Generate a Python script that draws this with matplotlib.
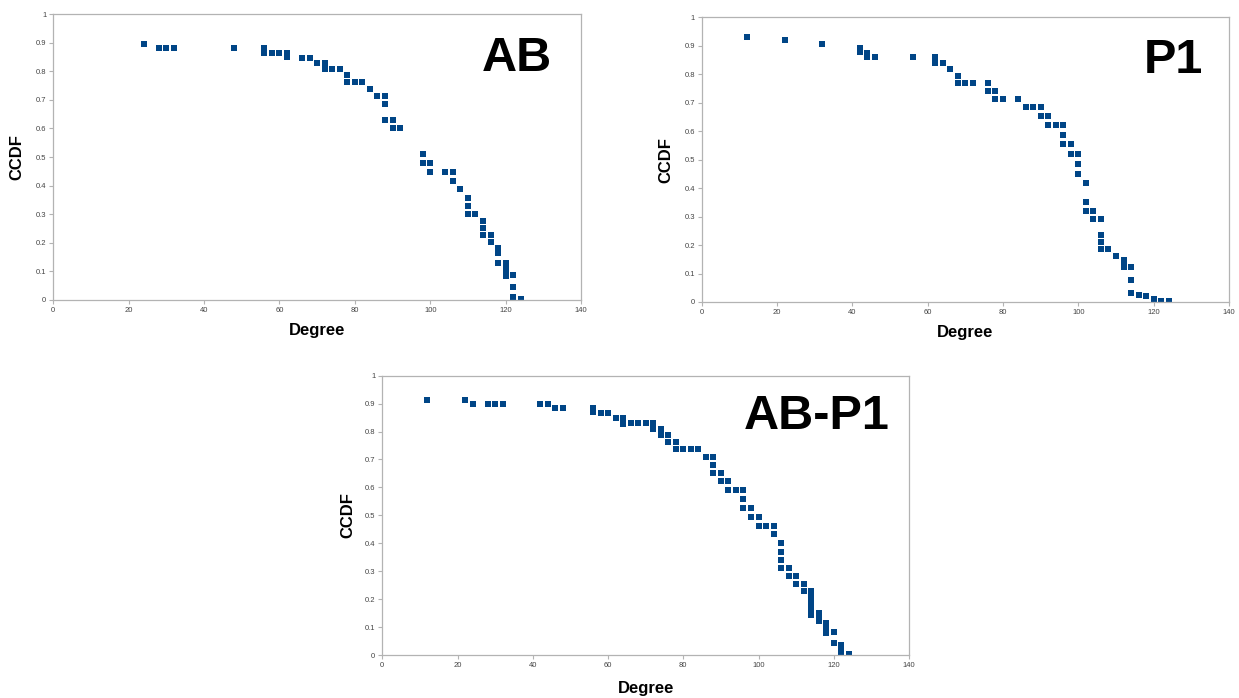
import matplotlib
matplotlib.use("Agg")
import matplotlib.pyplot as plt

plt.rcParams["font.family"] = ["Liberation Sans", "DejaVu Sans"]

# ── data ──────────────────────────────────────────────────────────────────────
AB_deg = [24, 28, 30, 32, 48, 56, 56, 58, 60, 62, 62, 66, 68, 70, 72, 72, 74, 76,
          78, 78, 80, 82, 84, 86, 88, 88, 88, 90, 90, 92, 98, 98, 100, 100, 104,
          106, 106, 108, 110, 110, 110, 112, 114, 114, 114, 116, 116, 118, 118,
          118, 120, 120, 120, 120, 122, 122, 122, 124]
AB_ccdf = [0.896, 0.881, 0.881, 0.881, 0.881, 0.881, 0.866, 0.866, 0.866, 0.866,
           0.851, 0.847, 0.847, 0.828, 0.828, 0.810, 0.810, 0.810, 0.787, 0.764,
           0.764, 0.764, 0.739, 0.714, 0.714, 0.687, 0.630, 0.630, 0.600, 0.600,
           0.509, 0.479, 0.479, 0.449, 0.449, 0.449, 0.417, 0.388, 0.357, 0.329,
           0.301, 0.301, 0.276, 0.250, 0.227, 0.227, 0.203, 0.182, 0.163, 0.128,
           0.128, 0.112, 0.097, 0.083, 0.085, 0.046, 0.008, 0.004]

P1_deg = [12, 22, 32, 42, 42, 44, 44, 46, 56, 62, 62, 64, 66, 68, 68, 70, 72, 76,
          76, 78, 78, 80, 84, 86, 88, 90, 90, 92, 92, 94, 96, 96, 96, 98, 98, 100,
          100, 100, 102, 102, 102, 104, 104, 106, 106, 106, 106, 108, 110, 112,
          112, 112, 114, 114, 114, 116, 118, 120, 122, 124]
P1_ccdf = [0.932, 0.921, 0.907, 0.893, 0.879, 0.875, 0.860, 0.860, 0.860, 0.860,
           0.838, 0.838, 0.817, 0.794, 0.768, 0.768, 0.768, 0.768, 0.741, 0.741,
           0.713, 0.713, 0.713, 0.684, 0.684, 0.684, 0.652, 0.652, 0.621, 0.621,
           0.621, 0.587, 0.554, 0.554, 0.519, 0.519, 0.485, 0.451, 0.417, 0.352,
           0.321, 0.321, 0.290, 0.290, 0.235, 0.210, 0.185, 0.185, 0.163, 0.148,
           0.135, 0.123, 0.124, 0.078, 0.031, 0.025, 0.021, 0.010, 0.005, 0.002]

ABP1_deg = [12, 22, 24, 28, 30, 32, 42, 44, 46, 48, 56, 56, 58, 60, 62, 64, 64, 64,
            66, 68, 70, 72, 72, 74, 74, 76, 76, 78, 78, 80, 82, 84, 86, 88, 88, 88,
            90, 90, 92, 92, 94, 96, 96, 96, 98, 98, 100, 100, 102, 104, 104, 106,
            106, 106, 106, 108, 108, 110, 110, 112, 112, 114, 114, 114, 114, 114,
            114, 116, 116, 116, 118, 118, 118, 120, 120, 122, 122, 122, 124]
ABP1_ccdf = [0.913, 0.913, 0.899, 0.899, 0.899, 0.899, 0.899, 0.899, 0.883, 0.883,
             0.885, 0.870, 0.868, 0.868, 0.850, 0.850, 0.838, 0.826, 0.830, 0.830,
             0.830, 0.830, 0.810, 0.810, 0.788, 0.788, 0.764, 0.764, 0.738, 0.738,
             0.738, 0.738, 0.710, 0.710, 0.681, 0.652, 0.652, 0.623, 0.623, 0.591,
             0.591, 0.591, 0.560, 0.527, 0.527, 0.495, 0.495, 0.463, 0.463, 0.463,
             0.432, 0.400, 0.370, 0.340, 0.310, 0.310, 0.282, 0.282, 0.255, 0.255,
             0.229, 0.229, 0.210, 0.190, 0.170, 0.155, 0.143, 0.149, 0.135, 0.121,
             0.113, 0.095, 0.080, 0.083, 0.042, 0.036, 0.020, 0.008, 0.003]

X_TICKS = [0, 20, 40, 60, 80, 100, 120, 140]
Y_TICKS = [0, 0.1, 0.2, 0.3, 0.4, 0.5, 0.6, 0.7, 0.8, 0.9, 1]
Y_TICK_LABELS = ["0", "0.1", "0.2", "0.3", "0.4", "0.5", "0.6", "0.7", "0.8", "0.9", "1"]

MARKER_COLOR = "#004586"
FRAME_COLOR = "#b3b3b3"

W, H = 1239, 698


def px_rect(left, top, right, bottom):
    return [left / W, (H - bottom) / H, (right - left) / W, (bottom - top) / H]


def draw_panel(fig, rect, deg, ccdf, name, name_xy, ylab_x, xlab_y):
    ax = fig.add_axes(rect)
    ax.plot(deg, ccdf, linestyle="none", marker="s", markersize=4.4,
            color=MARKER_COLOR, markeredgewidth=0)
    ax.set_xlim(0, 140)
    ax.set_ylim(0, 1)
    ax.set_xticks(X_TICKS)
    ax.set_yticks(Y_TICKS)
    ax.set_yticklabels(Y_TICK_LABELS)
    ax.tick_params(direction="out", length=3, width=0.8, color=FRAME_COLOR,
                   labelsize=5.5, labelcolor="#444444", pad=2)
    for sp in ax.spines.values():
        sp.set_color(FRAME_COLOR)
        sp.set_linewidth(0.9)
    ax.set_ylabel("CCDF", fontsize=12, fontweight="bold")
    ax.set_xlabel("Degree", fontsize=12, fontweight="bold")
    ax.yaxis.set_label_coords(ylab_x, 0.5)
    ax.xaxis.set_label_coords(0.5, xlab_y)
    ax.text(name_xy[0], name_xy[1], name, transform=ax.transAxes,
            fontsize=35, fontweight="bold", ha="center", va="center")
    return ax


fig = plt.figure(figsize=(W / 100, H / 100), dpi=100)

draw_panel(fig, px_rect(53.3, 14.3, 581, 299.7), AB_deg, AB_ccdf, "AB",
           (0.879, 0.846), -0.054, -0.082)
draw_panel(fig, px_rect(701.7, 17.3, 1229, 302), P1_deg, P1_ccdf, "P1",
           (0.894, 0.849), -0.054, -0.081)
draw_panel(fig, px_rect(382.3, 375.7, 909, 655), ABP1_deg, ABP1_ccdf, "AB-P1",
           (0.825, 0.855), -0.052, -0.093)

fig.savefig("out.png", dpi=100)
